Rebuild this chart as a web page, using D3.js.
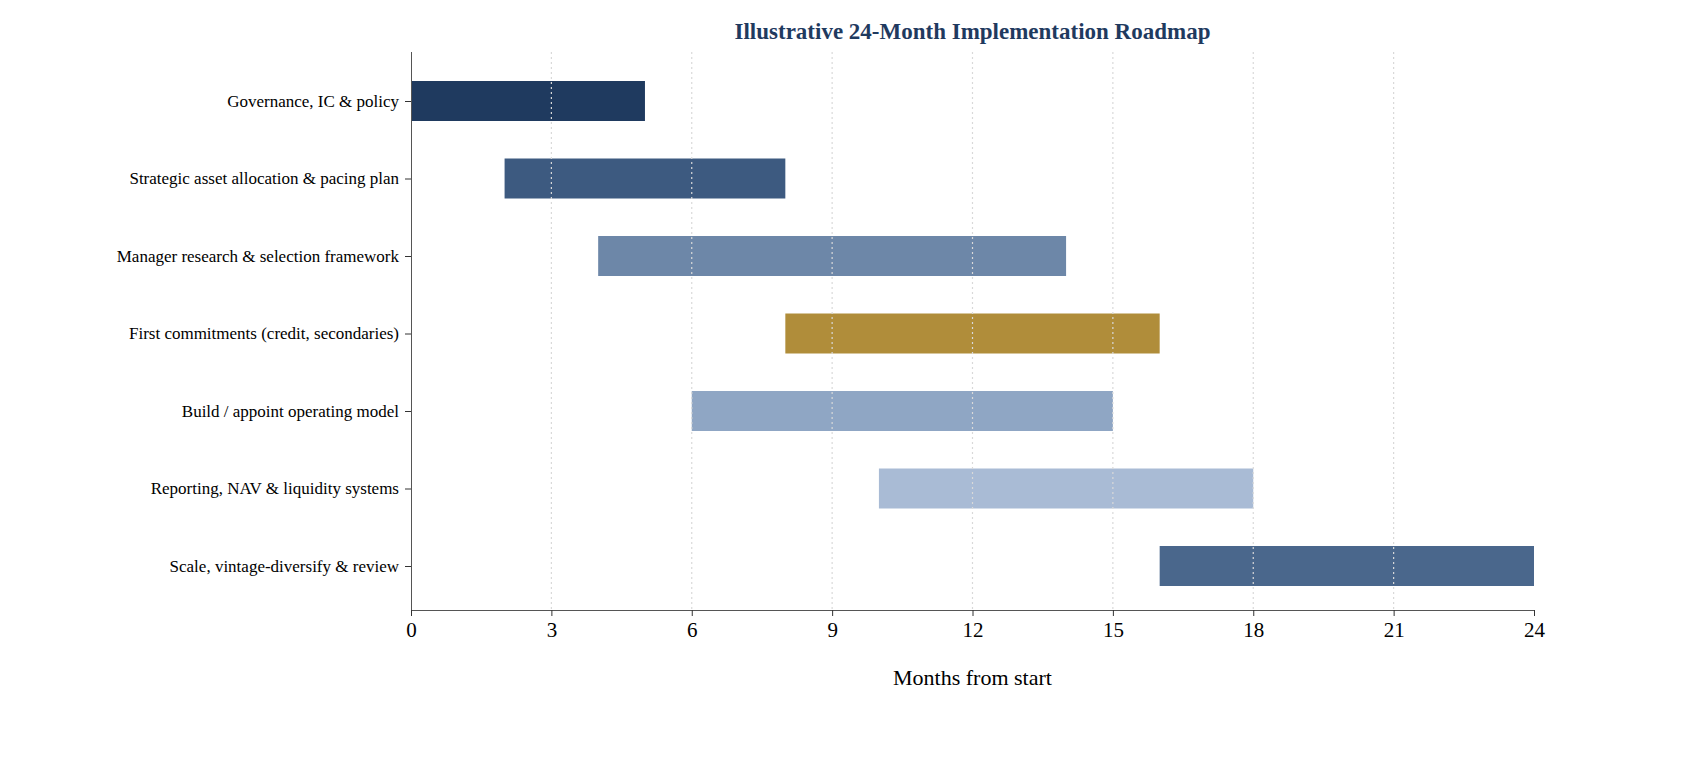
<!DOCTYPE html>
<html><head><meta charset="utf-8">
<script src="https://cdn.jsdelivr.net/npm/d3@7"></script>
<style>body{margin:0;background:#fff}text{font-family:"Liberation Serif","DejaVu Serif",serif}</style>
</head><body><div class="chart"></div>
<script>
const tasks = ['Governance, IC & policy','Strategic asset allocation & pacing plan','Manager research & selection framework','First commitments (credit, secondaries)','Build / appoint operating model','Reporting, NAV & liquidity systems','Scale, vintage-diversify & review']
const starts = [0,2,4,8,6,10,16]
const ends = [5,8,14,16,15,18,24]
const colors = ['#1f3a5f','#3d5a80','#6d87a8','#b08d3a','#8fa6c4','#a9bbd5','#4a678c']
const xTicks = [0,3,6,9,12,15,18,21,24]

const width = 1686, height = 762
const mLeft = 411, mRight = 1534, mTop = 52, mBottom = 610
const svg = d3.select('.chart').append('svg').attr('width',width).attr('height',height)

const x = d3.scaleLinear().domain([0,24]).range([mLeft,mRight])
const y = d3.scalePoint().domain(tasks).range([101,566])
const barH = 40

svg.selectAll('rect.bar').data(tasks).enter().append('rect')
  .attr('x',(d,i)=>x(starts[i]))
  .attr('y',d=>y(d)-barH/2)
  .attr('width',(d,i)=>x(ends[i])-x(starts[i]))
  .attr('height',barH)
  .attr('fill',(d,i)=>colors[i])

// grid over bars
svg.selectAll('line.grid').data(xTicks.slice(1,-1)).enter().append('line')
  .attr('x1',d=>x(d)).attr('x2',d=>x(d)).attr('y1',mTop).attr('y2',mBottom)
  .attr('stroke','#d9d9d9').attr('stroke-width',1.2).attr('stroke-dasharray','2,3')

const xAxis = svg.append('g').attr('transform',`translate(0,${mBottom})`)
  .call(d3.axisBottom(x).tickValues(xTicks).tickSize(6).tickPadding(6))
xAxis.selectAll('text').attr('font-size',21).attr('fill','#000')
xAxis.select('.domain').attr('stroke','#555')
xAxis.selectAll('.tick line').attr('stroke','#333')

const yAxis = svg.append('g').attr('transform',`translate(${mLeft},0)`)
  .call(d3.axisLeft(y).tickSize(6).tickPadding(6))
yAxis.select('.domain').attr('d',`M0.5,${mTop}V${mBottom}`).attr('stroke','#555')
yAxis.selectAll('text').attr('font-size',17).attr('fill','#000')
yAxis.selectAll('.tick line').attr('stroke','#333')

svg.append('text').attr('x',(mLeft+mRight)/2).attr('y',39).attr('text-anchor','middle')
  .attr('font-size',23).attr('font-weight','bold').attr('fill','#1f3a5f')
  .text('Illustrative 24-Month Implementation Roadmap')
svg.append('text').attr('x',(mLeft+mRight)/2).attr('y',685).attr('text-anchor','middle')
  .attr('font-size',22).attr('fill','#000').text('Months from start')
</script></body></html>
